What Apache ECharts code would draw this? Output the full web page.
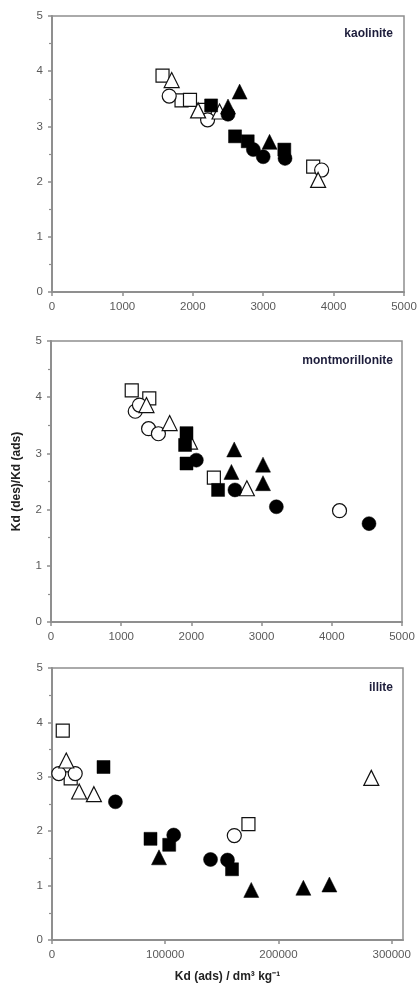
<!DOCTYPE html>
<html>
<head>
<meta charset="utf-8">
<script src="https://cdn.jsdelivr.net/npm/echarts@6/dist/echarts.min.js"></script>
<style>
html,body{margin:0;padding:0;background:#fff;}
#chart{width:420px;height:987px;}
</style>
</head>
<body>
<div id="chart"></div>
<script>
// ---- Data (x = Kd(ads), y = Kd(des)/Kd(ads)) ----
const panelNames = ["kaolinite", "montmorillonite", "illite"];
const xTicksSmall = [0, 1000, 2000, 3000, 4000, 5000];
const xTicksIllite = [0, 100000, 200000, 300000];
const yTicks = [0, 1, 2, 3, 4, 5];

// kaolinite
const kaoOpenSquare   = [[1570,3.92],[1840,3.47],[1960,3.48],[2170,3.30],[3710,2.27]];
const kaoOpenCircle   = [[1665,3.55],[2210,3.12],[3830,2.21]];
const kaoOpenTriangle = [[1700,3.84],[2075,3.29],[2380,3.27],[3780,2.03]];
const kaoFilledSquare   = [[2260,3.38],[2600,2.82],[2780,2.73],[3300,2.58]];
const kaoFilledCircle   = [[2500,3.22],[2860,2.58],[3000,2.45],[3310,2.42]];
const kaoFilledTriangle = [[2500,3.36],[2665,3.63],[3090,2.72]];

// montmorillonite
const monOpenSquare   = [[1150,4.12],[1400,3.98],[2320,2.57]];
const monOpenCircle   = [[1200,3.75],[1260,3.86],[1390,3.44],[1530,3.35],[4110,1.98]];
const monOpenTriangle = [[1360,3.86],[1690,3.54],[1980,3.21],[2790,2.38]];
const monFilledSquare   = [[1930,3.36],[1910,3.15],[1930,2.82],[2380,2.35]];
const monFilledCircle   = [[2070,2.88],[2620,2.35],[3210,2.05],[4530,1.75]];
const monFilledTriangle = [[2610,3.07],[2570,2.67],[3020,2.80],[3020,2.47]];

// illite
const illOpenSquare   = [[9500,3.85],[16500,2.97],[173500,2.13]];
const illOpenCircle   = [[6000,3.06],[20500,3.06],[161000,1.92]];
const illOpenTriangle = [[12600,3.30],[24000,2.73],[37000,2.68],[282000,2.98]];
const illFilledSquare   = [[45500,3.18],[87000,1.86],[103500,1.75],[159000,1.30]];
const illFilledCircle   = [[56000,2.54],[107500,1.93],[140000,1.48],[155000,1.47]];
const illFilledTriangle = [[94500,1.52],[176000,0.92],[222000,0.96],[245000,1.02]];

const panels = [
  [kaoOpenSquare,kaoOpenCircle,kaoOpenTriangle,kaoFilledSquare,kaoFilledCircle,kaoFilledTriangle],
  [monOpenSquare,monOpenCircle,monOpenTriangle,monFilledSquare,monFilledCircle,monFilledTriangle],
  [illOpenSquare,illOpenCircle,illOpenTriangle,illFilledSquare,illFilledCircle,illFilledTriangle]
];

// ---- Styling ----
const axisGray = '#8f8f8f';
const labelColor = '#5a5a5a';
const grids = [
  {left: 52, top: 16, width: 352, height: 276},
  {left: 51, top: 341, width: 351, height: 281},
  {left: 52, top: 668, width: 351, height: 272}
];
const symbolDefs = [
  {symbol:'rect', size:13, filled:false},
  {symbol:'circle', size:14, filled:false},
  {symbol:'triangle', size:15, filled:false},
  {symbol:'rect', size:13, filled:true},
  {symbol:'circle', size:14, filled:true},
  {symbol:'triangle', size:15, filled:true}
];

const option = {
  animation: false,
  backgroundColor: '#fff',
  title: panelNames.map((n, i) => ({
    text: n,
    right: 22,
    top: [23, 350, 677][i],
    textStyle: {fontFamily: 'Liberation Sans, Arial', fontWeight: 'bold', fontSize: 12, color: '#1c1c3a'}
  })),
  grid: grids.map(g => Object.assign({show: true, borderColor: axisGray, borderWidth: 1.5, backgroundColor: 'transparent'}, g)),
  xAxis: [0,1,2].map(i => ({
    type: 'value',
    gridIndex: i,
    min: 0,
    max: i === 2 ? 310000 : 5000,
    interval: i === 2 ? 100000 : 1000,
    axisLine: {show: true, onZero: false, lineStyle: {color: axisGray, width: 2}},
    axisTick: {show: true, length: 4, lineStyle: {color: axisGray, width: 1.5}},
    splitLine: {show: false},
    axisLabel: {
      show: true, margin: 9, color: labelColor, fontSize: 11.5,
      fontFamily: 'Liberation Sans, Arial', showMaxLabel: i === 2 ? false : true,
      formatter: v => String(v)
    },
    name: i === 2 ? 'Kd (ads) / dm³ kg⁻¹' : '',
    nameLocation: 'middle',
    nameGap: 31,
    nameTextStyle: {fontFamily: 'Liberation Sans, Arial', fontWeight: 'bold', fontSize: 12, color: '#222'}
  })),
  yAxis: [0,1,2].map(i => ({
    type: 'value',
    gridIndex: i,
    min: 0, max: 5, interval: 1,
    axisLine: {show: true, onZero: false, lineStyle: {color: axisGray, width: 2}},
    axisTick: {show: true, length: 4, lineStyle: {color: axisGray, width: 1.5}},
    minorTick: {show: true, splitNumber: 2, length: 3, lineStyle: {color: axisGray, width: 1.2}},
    splitLine: {show: false},
    axisLabel: {show: true, margin: 9, color: labelColor, fontSize: 11.5, fontFamily: 'Liberation Sans, Arial', formatter: v => String(v)},
    name: i === 1 ? 'Kd (des)/Kd (ads)' : '',
    nameLocation: 'middle',
    nameGap: 28,
    nameTextStyle: {fontFamily: 'Liberation Sans, Arial', fontWeight: 'bold', fontSize: 12, color: '#222'}
  })),
  series: []
};

panels.forEach((sets, pi) => {
  sets.forEach((data, si) => {
    const d = symbolDefs[si];
    option.series.push({
      type: 'scatter',
      xAxisIndex: pi,
      yAxisIndex: pi,
      data: data,
      symbol: d.symbol,
      symbolSize: d.size,
      itemStyle: d.filled
        ? {color: '#000', borderColor: '#000', borderWidth: 0.5, opacity: 1}
        : {color: '#fff', borderColor: '#111', borderWidth: 1.2, opacity: 1},
      z: d.filled ? 3 : 2
    });
  });
});

const chart = echarts.init(document.getElementById('chart'), null, {renderer: 'canvas'});
chart.setOption(option);
</script>
</body>
</html>
